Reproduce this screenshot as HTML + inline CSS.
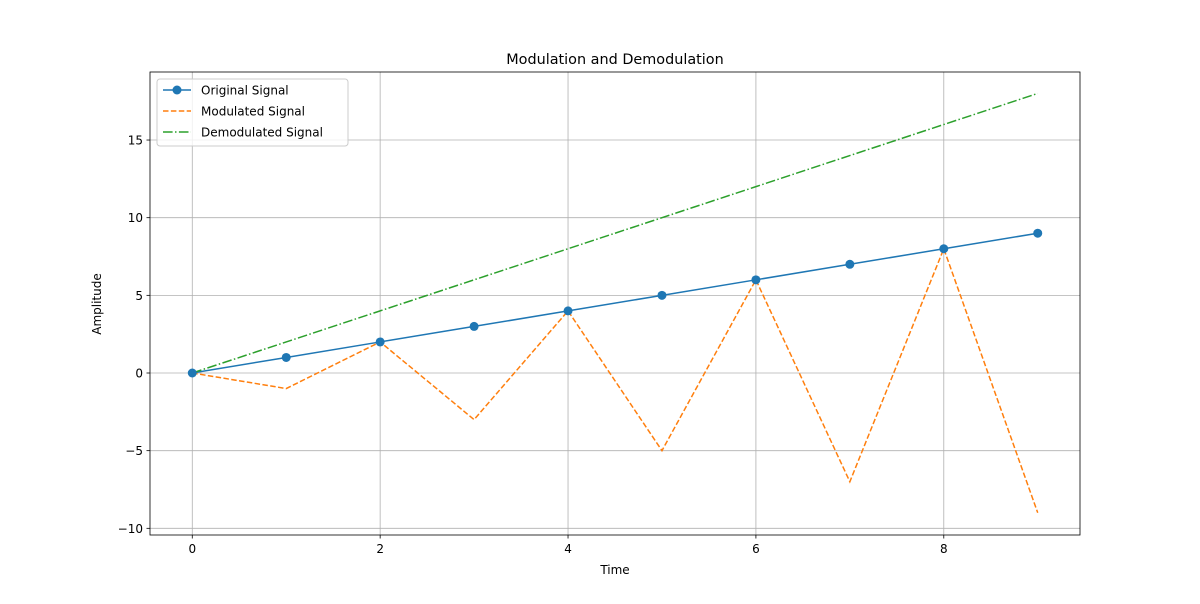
<!DOCTYPE html>
<html><head><meta charset="utf-8"><style>
body{margin:0;background:#fff;font-family:"DejaVu Sans","Liberation Sans",sans-serif;}
svg text{font-family:"DejaVu Sans","Liberation Sans",sans-serif;fill:#000}
</style></head><body>
<svg id="chart" width="1200" height="600" xmlns="http://www.w3.org/2000/svg">
<rect width="1200" height="600" fill="#fff"/>
<g id="grid"></g><g id="series"></g><g id="axes"></g>
</svg>
<script>
const times=[0,1,2,3,4,5,6,7,8,9];
const original=[0,1,2,3,4,5,6,7,8,9];
const modulated=[0,-1,2,-3,4,-5,6,-7,8,-9];
const demodulated=[0,2,4,6,8,10,12,14,16,18];
const xTicks=[0,2,4,6,8];
const yTicks=[-10,-5,0,5,10,15];
const yTickLabels=["\u221210","\u22125","0","5","10","15"];

const L=150,R=1080,T=72,B=535;
const xMin=-0.45,xMax=9.45,yMin=-10.43,yMax=19.38;
const X=v=>L+(v-xMin)/(xMax-xMin)*(R-L);
const Y=v=>B-(v-yMin)/(yMax-yMin)*(B-T);
const NS="http://www.w3.org/2000/svg";
function mk(tag,attrs,parent){const e=document.createElementNS(NS,tag);for(const k in attrs)e.setAttribute(k,attrs[k]);parent.appendChild(e);return e;}
const grid=document.getElementById('grid'),ser=document.getElementById('series'),ax=document.getElementById('axes');
xTicks.forEach(t=>{
  const g=mk('line',{x1:X(t),x2:X(t),y1:T,y2:B,stroke:'#b0b0b0','stroke-width':0.8},grid);
  
  
  mk('line',{x1:X(t),x2:X(t),y1:B,y2:B+3.5,stroke:'#000','stroke-width':0.8},ax);
  const tx=mk('text',{x:X(t),y:B+18,'text-anchor':'middle','font-size':12},ax);tx.textContent=t;
  
  
});
yTicks.forEach((t,i)=>{
  const g=mk('line',{x1:L,x2:R,y1:Y(t),y2:Y(t),stroke:'#b0b0b0','stroke-width':0.8},grid);
  
  
  mk('line',{x1:L-3.5,x2:L,y1:Y(t),y2:Y(t),stroke:'#000','stroke-width':0.8},ax);
  const tx=mk('text',{x:L-7,y:Y(t)+4.5,'text-anchor':'end','font-size':12},ax);tx.textContent=yTickLabels[i];
  
  
});
function line(vals,color,dash,name){
  const p=mk('polyline',{points:times.map((t,i)=>X(t)+','+Y(vals[i])).join(' '),fill:'none',stroke:color,'stroke-width':1.5,'stroke-dasharray':dash},ser);
  
  
}
line(original,'#1f77b4','','original-signal-line');
line(modulated,'#ff7f0e','5.5,2.4','modulated-signal-line');
line(demodulated,'#2ca02c','9.6,2.4,1.5,2.4','demodulated-signal-line');
times.forEach((t,i)=>{
  const c=mk('circle',{cx:X(t),cy:Y(original[i]),r:4.5,fill:'#1f77b4'},ser);
  
  
});
mk('rect',{x:L,y:T,width:R-L,height:B-T,fill:'none',stroke:'#000','stroke-width':0.8},ax);
let t=mk('text',{x:615,y:64,'text-anchor':'middle','font-size':14.4},ax);t.textContent='Modulation and Demodulation';

t=mk('text',{x:615,y:574,'text-anchor':'middle','font-size':12},ax);t.textContent='Time';

t=mk('text',{x:101,y:304,'text-anchor':'middle','font-size':12,transform:'rotate(-90 101 304)'},ax);t.textContent='Amplitude';

const lg=mk('g',{},ax);

mk('rect',{x:157,y:79,width:191,height:67,rx:3,fill:'#fff','fill-opacity':0.8,stroke:'#ccc'},lg);
const ent=[['Original Signal','#1f77b4','',true],['Modulated Signal','#ff7f0e','5.5,2.4',false],['Demodulated Signal','#2ca02c','9.6,2.4,1.5,2.4',false]];
ent.forEach((e,i)=>{
  const y=90+i*21;
  const g=mk('g',{},lg);
  
  mk('line',{x1:163,x2:191,y1:y,y2:y,stroke:e[1],'stroke-width':1.5,'stroke-dasharray':e[2]},g);
  if(e[3])mk('circle',{cx:177,cy:y,r:4.5,fill:e[1]},g);
  const tx=mk('text',{x:201,y:y+4.5,'font-size':12},g);tx.textContent=e[0];
});
</script>
</body></html>
